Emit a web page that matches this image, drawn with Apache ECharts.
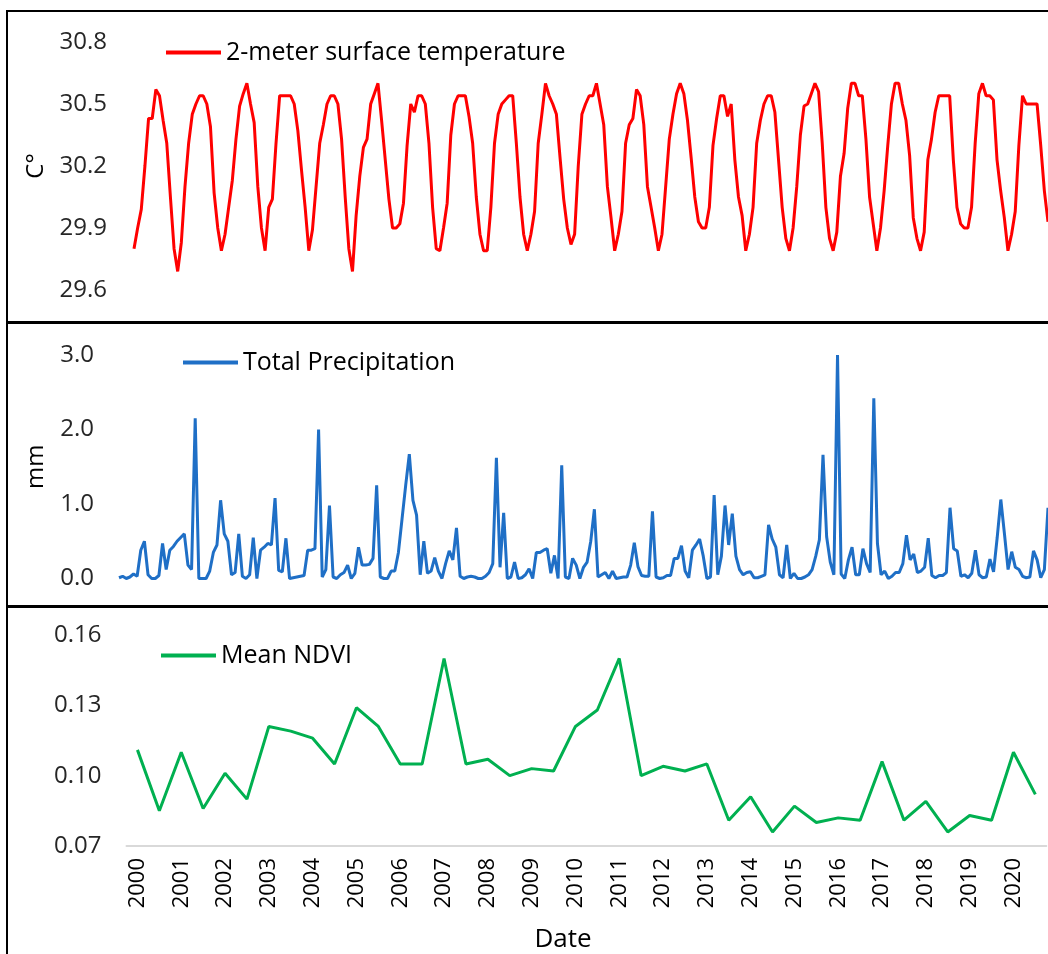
<!DOCTYPE html>
<html>
<head>
<meta charset="utf-8">
<script src="https://cdn.jsdelivr.net/npm/echarts@6/dist/echarts.min.js"></script>
<style>
html,body{margin:0;padding:0;background:#fff;}
#chart{width:1048px;height:954px;}
</style>
</head>
<body>
<div id="chart"></div>
<script>
// ---- Data ----
const tempStartYear = 2000;
const temperature = [
  29.8, 29.9, 29.99, 30.2, 30.43, 30.43, 30.57, 30.54, 30.42, 30.31, 30.05, 29.8,
  29.69, 29.83, 30.1, 30.31, 30.45, 30.5, 30.54, 30.54, 30.5, 30.39, 30.07, 29.9,
  29.79, 29.87, 30.0, 30.13, 30.33, 30.49, 30.55, 30.6, 30.5, 30.41, 30.1, 29.9,
  29.79, 30.0, 30.04, 30.31, 30.54, 30.54, 30.54, 30.54, 30.5, 30.37, 30.18, 30.0,
  29.79, 29.89, 30.1, 30.31, 30.4, 30.5, 30.54, 30.54, 30.5, 30.33, 30.05, 29.8,
  29.69, 29.96, 30.15, 30.29, 30.33, 30.5, 30.55, 30.6, 30.42, 30.23, 30.04, 29.9,
  29.9, 29.92, 30.02, 30.3, 30.5, 30.46, 30.54, 30.54, 30.5, 30.31, 30.0, 29.8,
  29.79, 29.9, 30.02, 30.35, 30.5, 30.54, 30.54, 30.54, 30.44, 30.31, 30.05, 29.87,
  29.79, 29.79, 30.0, 30.31, 30.45, 30.5, 30.52, 30.54, 30.54, 30.31, 30.05, 29.87,
  29.79, 29.87, 29.98, 30.31, 30.45, 30.6, 30.54, 30.5, 30.45, 30.24, 30.04, 29.9,
  29.82, 29.87, 30.2, 30.45, 30.5, 30.54, 30.54, 30.6, 30.5, 30.4, 30.1, 29.95,
  29.79, 29.87, 29.98, 30.31, 30.4, 30.43, 30.57, 30.54, 30.4, 30.1, 30.0, 29.9,
  29.79, 29.87, 30.1, 30.33, 30.45, 30.55, 30.6, 30.55, 30.42, 30.24, 30.05, 29.93,
  29.9, 29.9, 30.0, 30.3, 30.43, 30.54, 30.54, 30.44, 30.5, 30.23, 30.05, 29.96,
  29.79, 29.87, 30.0, 30.31, 30.42, 30.5, 30.54, 30.54, 30.46, 30.23, 30.0, 29.85,
  29.79, 29.9, 30.1, 30.35, 30.49, 30.5, 30.55, 30.6, 30.56, 30.31, 30.0, 29.85,
  29.79, 29.88, 30.15, 30.26, 30.48, 30.6, 30.6, 30.54, 30.54, 30.33, 30.05, 29.92,
  29.79, 29.9, 30.08, 30.3, 30.5, 30.6, 30.6, 30.5, 30.42, 30.25, 29.95, 29.85,
  29.79, 29.88, 30.23, 30.33, 30.46, 30.54, 30.54, 30.54, 30.54, 30.23, 30.0, 29.92,
  29.9, 29.9, 30.0, 30.31, 30.55, 30.6, 30.54, 30.54, 30.52, 30.23, 30.08, 29.95,
  29.79, 29.87, 29.98, 30.3, 30.54, 30.5, 30.5, 30.5, 30.5, 30.3, 30.08, 29.93
];
const precipitation = [
  0.01, 0.03, 0.0, 0.02, 0.06, 0.03, 0.38, 0.5, 0.05, 0.0, 0.0, 0.04,
  0.47, 0.12, 0.38, 0.43, 0.5, 0.55, 0.6, 0.18, 0.12, 2.15, 0.0, 0.0,
  0.0, 0.1, 0.35, 0.45, 1.05, 0.6, 0.5, 0.05, 0.08, 0.6, 0.03, 0.0,
  0.05, 0.55, 0.0, 0.38, 0.42, 0.47, 0.45, 1.08, 0.11, 0.09, 0.54, 0.0,
  0.01, 0.02, 0.03, 0.04, 0.38, 0.38, 0.4, 2.0, 0.02, 0.12, 0.98, 0.02,
  0.0, 0.05, 0.08, 0.18, 0.0, 0.07, 0.42, 0.18, 0.18, 0.19, 0.27, 1.25,
  0.02, 0.0, 0.0, 0.1, 0.1, 0.35, 0.8, 1.25, 1.67, 1.05, 0.85, 0.05,
  0.5, 0.07, 0.1, 0.28, 0.1, 0.0, 0.2, 0.37, 0.25, 0.68, 0.03, 0.0,
  0.02, 0.03, 0.02, 0.0, 0.0, 0.03, 0.08, 0.2, 1.62, 0.15, 0.88, 0.0,
  0.02, 0.22, 0.0, 0.01, 0.05, 0.13, 0.0, 0.35, 0.35, 0.38, 0.4, 0.07,
  0.31, 0.0, 1.52, 0.02, 0.0, 0.27, 0.18, 0.0, 0.15, 0.22, 0.5, 0.93,
  0.02, 0.05, 0.08, 0.0, 0.1, 0.0, 0.01, 0.02, 0.02, 0.18, 0.48, 0.16,
  0.04, 0.03, 0.03, 0.9, 0.02, 0.0, 0.01, 0.04, 0.04, 0.27, 0.27, 0.44,
  0.1, 0.01, 0.38, 0.45, 0.53, 0.3, 0.0, 0.02, 1.12, 0.05, 0.3, 0.98,
  0.45, 0.87, 0.3, 0.12, 0.05, 0.08, 0.09, 0.01, 0.01, 0.03, 0.05, 0.72,
  0.53, 0.42, 0.05, 0.01, 0.45, 0.0, 0.07, 0.0, 0.0, 0.02, 0.05, 0.12,
  0.3, 0.52, 1.66, 0.56, 0.22, 0.05, 3.0, 0.06, 0.0, 0.25, 0.42, 0.05,
  0.05, 0.4, 0.2, 0.08, 2.42, 0.47, 0.05, 0.1, 0.0, 0.03, 0.08, 0.08,
  0.2, 0.58, 0.25, 0.33, 0.08, 0.1, 0.15, 0.54, 0.04, 0.01, 0.04, 0.04,
  0.08, 0.95, 0.4, 0.37, 0.03, 0.05, 0.01, 0.07, 0.38, 0.05, 0.01, 0.02,
  0.26, 0.09, 0.55, 1.06, 0.6, 0.12, 0.36, 0.15, 0.12, 0.03, 0.01, 0.02,
  0.37, 0.25, 0.01, 0.12, 0.95
];
const ndviDates = [];
for (let y = 2000; y <= 2020; y++) { ndviDates.push(y + '-01', y + '-07'); }
const ndvi = [
  0.111, 0.085, 0.110, 0.086, 0.101, 0.090, 0.121, 0.119, 0.116, 0.105,
  0.129, 0.121, 0.105, 0.105, 0.150, 0.105, 0.107, 0.100, 0.103, 0.102,
  0.121, 0.128, 0.150, 0.100, 0.104, 0.102, 0.105, 0.081, 0.091, 0.076,
  0.087, 0.080, 0.082, 0.081, 0.106, 0.081, 0.089, 0.076, 0.083, 0.081,
  0.110, 0.092
];
const tempTicks = { min: 29.6, max: 30.8, step: 0.3 };
const precipTicks = { min: 0, max: 3, step: 1 };
const ndviTicks = { min: 0.07, max: 0.16, step: 0.03 };

function monthLabels(startYear, n) {
  const out = [];
  for (let i = 0; i < n; i++) {
    const y = startYear + Math.floor(i / 12), m = (i % 12) + 1;
    out.push(y + '-' + (m < 10 ? '0' + m : m));
  }
  return out;
}
const tempMonths = monthLabels(tempStartYear, temperature.length);
const precipMonths = monthLabels(tempStartYear, precipitation.length);

// ---- Chart ----
const FONT = 'Open Sans';
const chart = echarts.init(document.getElementById('chart'));
const yLabel = (digits) => ({
  fontFamily: FONT, fontSize: 24, color: '#262626', margin: 27,
  formatter: v => Number(v).toFixed(digits)
});
const hiddenX = (gi, cats) => ({
  type: 'category', gridIndex: gi, data: cats, boundaryGap: false,
  axisLine: { show: false }, axisTick: { show: false }, axisLabel: { show: false },
  splitLine: { show: false }
});
const legendBase = { icon: 'rect', itemWidth: 55, itemHeight: 4, padding: 0, itemGap: 0,
  textStyle: { fontFamily: FONT, fontSize: 25, color: '#000' } };

const option = {
  backgroundColor: '#ffffff',
  animation: false,
  grid: [
    { left: 134, right: 0, top: 42, height: 248 },
    { left: 119, right: -1, top: 355, height: 223.5 },
    { left: 126.5, right: 1.7, top: 635, height: 211 }
  ],
  legend: [
    Object.assign({ data: ['2-meter surface temperature'], left: 166, top: 40 }, legendBase),
    Object.assign({ data: ['Total Precipitation'], left: 183, top: 350 }, legendBase),
    Object.assign({ data: ['Mean NDVI'], left: 161, top: 643 }, legendBase)
  ],
  xAxis: [
    hiddenX(0, tempMonths),
    hiddenX(1, precipMonths),
    { type: 'category', gridIndex: 2, data: ndviDates, boundaryGap: true,
      axisLine: { show: true, lineStyle: { color: '#d9d9d9', width: 2 } },
      axisTick: { show: false },
      axisLabel: { interval: 1, rotate: 90, margin: 12, fontFamily: FONT, fontSize: 22, color: '#000',
        formatter: v => v.slice(0, 4) },
      splitLine: { show: false } }
  ],
  yAxis: [
    { type: 'value', gridIndex: 0, min: tempTicks.min, max: tempTicks.max, interval: tempTicks.step,
      name: 'C°', nameLocation: 'middle', nameGap: 86, nameRotate: 90,
      nameTextStyle: { fontFamily: FONT, fontSize: 24, color: '#000' },
      axisLine: { show: false }, axisTick: { show: false }, splitLine: { show: false },
      axisLabel: yLabel(1) },
    { type: 'value', gridIndex: 1, min: precipTicks.min, max: precipTicks.max, interval: precipTicks.step,
      name: 'mm', nameLocation: 'middle', nameGap: 71, nameRotate: 90,
      nameTextStyle: { fontFamily: FONT, fontSize: 24, color: '#000' },
      axisLine: { show: false }, axisTick: { show: false }, splitLine: { show: false },
      axisLabel: Object.assign(yLabel(1), { margin: 25 }) },
    { type: 'value', gridIndex: 2, min: ndviTicks.min, max: ndviTicks.max, interval: ndviTicks.step,
      axisLine: { show: false }, axisTick: { show: false }, splitLine: { show: false },
      axisLabel: Object.assign(yLabel(2), { margin: 25 }) }
  ],
  series: [
    { name: '2-meter surface temperature', type: 'line', xAxisIndex: 0, yAxisIndex: 0, data: temperature,
      showSymbol: false, symbol: 'none', lineStyle: { color: '#ff0000', width: 3 }, itemStyle: { color: '#ff0000' } },
    { name: 'Total Precipitation', type: 'line', xAxisIndex: 1, yAxisIndex: 1, data: precipitation,
      showSymbol: false, symbol: 'none', lineStyle: { color: '#1f6fc6', width: 3 }, itemStyle: { color: '#1f6fc6' } },
    { name: 'Mean NDVI', type: 'line', xAxisIndex: 2, yAxisIndex: 2, data: ndvi,
      showSymbol: false, symbol: 'none', lineStyle: { color: '#00b050', width: 3 }, itemStyle: { color: '#00b050' } }
  ],
  graphic: [
    { type: 'rect', silent: true, shape: { x: 7, y: 11, width: 1100, height: 311 },
      style: { fill: null, stroke: '#000', lineWidth: 2 } },
    { type: 'rect', silent: true, shape: { x: 7, y: 323, width: 1100, height: 283 },
      style: { fill: null, stroke: '#000', lineWidth: 2 } },
    { type: 'rect', silent: true, shape: { x: 7, y: 607, width: 1100, height: 400 },
      style: { fill: null, stroke: '#000', lineWidth: 2 } },
    { type: 'text', silent: true, x: 563, y: 940,
      style: { text: 'Date', font: '26px "Open Sans"', fill: '#000', textAlign: 'center', textVerticalAlign: 'middle' } }
  ]
};
chart.setOption(option);
</script>
</body>
</html>
